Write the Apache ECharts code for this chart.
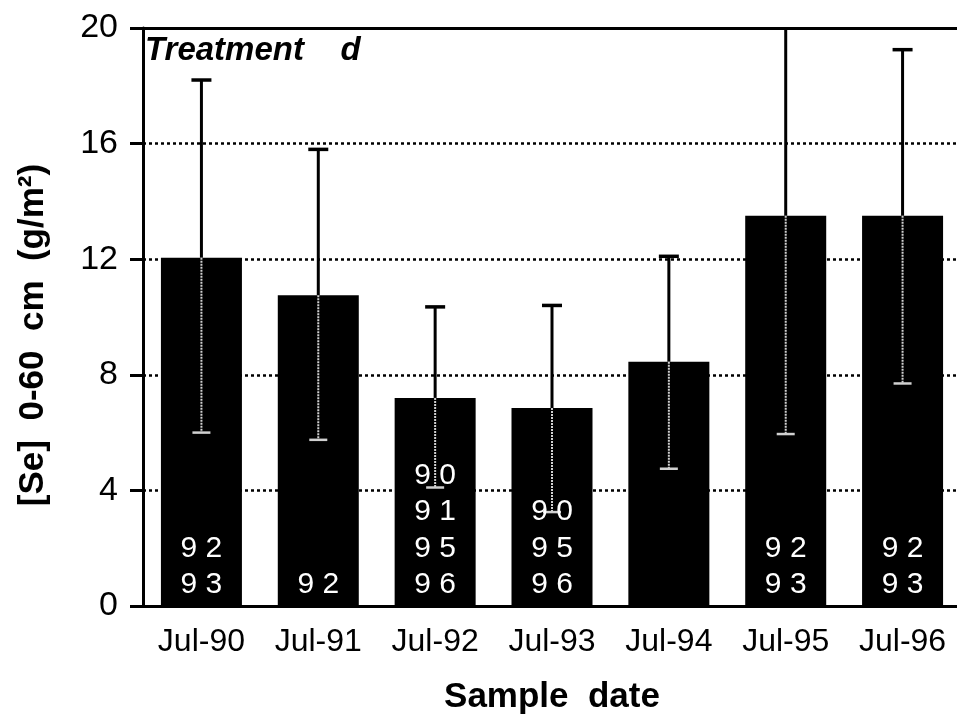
<!DOCTYPE html>
<html>
<head>
<meta charset="utf-8">
<script src="https://cdn.jsdelivr.net/npm/echarts@6/dist/echarts.min.js"></script>
<style>
  html, body { margin: 0; padding: 0; background: #fff; }
  #chart { width: 957px; height: 719px; }
</style>
</head>
<body>
<div id="chart"></div>
<script>
// data
var categories = ['Jul-90', 'Jul-91', 'Jul-92', 'Jul-93', 'Jul-94', 'Jul-95', 'Jul-96'];
var seMeans = [12.05, 10.75, 7.2, 6.85, 8.45, 13.5, 13.5];
var seLow = [6.0, 5.75, 4.1, 3.25, 4.75, 5.95, 7.7];
var seHigh = [18.2, 15.8, 10.35, 10.4, 12.1, 21.0, 19.25];
// years noted inside each bar (top to bottom)
var yearLabels = [['92', '93'], ['92'], ['90', '91', '95', '96'], ['90', '95', '96'], [], ['92', '93'], ['92', '93']];
var yTicks = [0, 4, 8, 12, 16, 20];

var chart = echarts.init(document.getElementById('chart'));

var errData = categories.map(function (c, i) {
  return [i, seLow[i], seHigh[i], seMeans[i]];
});

var option = {
  animation: false,
  textStyle: { fontFamily: 'Liberation Sans', color: '#000' },
  title: {
    text: 'Treatment    d',
    left: 145,
    top: 34,
    padding: 0,
    textStyle: { fontSize: 33, fontWeight: 'bold', fontStyle: 'italic', color: '#000', fontFamily: 'Liberation Sans' }
  },
  grid: { left: 143, top: 28, width: 818, height: 578, outerBoundsMode: 'none' },
  xAxis: [{
    type: 'category',
    data: categories,
    position: 'bottom',
    axisLine: { lineStyle: { color: '#000', width: 3 } },
    axisTick: { alignWithLabel: true, length: 14, lineStyle: { color: '#000', width: 3 } },
    axisLabel: { fontSize: 32, color: '#000', margin: 20, interval: 0, hideOverlap: false },
    name: 'Sample  date',
    nameLocation: 'middle',
    nameGap: 74,
    nameTextStyle: { fontSize: 35, fontWeight: 'bold', color: '#000' }
  }, {
    type: 'category',
    data: categories,
    position: 'top',
    axisLine: { lineStyle: { color: '#000', width: 3 } },
    axisTick: { show: false },
    axisLabel: { show: false }
  }],
  yAxis: {
    type: 'value',
    min: yTicks[0],
    max: yTicks[yTicks.length - 1],
    interval: 4,
    axisLine: { show: true, lineStyle: { color: '#000', width: 3 } },
    axisTick: { show: true, length: 13, lineStyle: { color: '#000', width: 3 } },
    axisLabel: { fontSize: 34, color: '#000', margin: 25 },
    splitLine: { show: true, lineStyle: { color: '#000', width: 2.5, type: [3, 3] } },
    name: '[Se]  0-60  cm  (g/m\u00b2)',
    nameLocation: 'middle',
    nameGap: 92,
    nameTextStyle: { fontSize: 35, fontWeight: 'bold', color: '#000', padding: [0, 36, 0, 0] }
  },
  series: [{
    type: 'bar',
    data: seMeans,
    barWidth: 81,
    itemStyle: { color: '#000' },
    z: 2
  }, {
    // error bars: black above the bar, light grey inside it
    type: 'custom',
    data: errData,
    z: 5,
    renderItem: function (params, api) {
      var i = api.value(0);
      var low = api.value(1), high = api.value(2), mean = api.value(3);
      var pMean = api.coord([i, mean]);
      var pLow = api.coord([i, low]);
      var pHigh = api.coord([i, Math.min(high, 20)]);
      var x = pMean[0];
      var kids = [
        { type: 'line', shape: { x1: x, y1: pMean[1], x2: x, y2: pHigh[1] }, style: { stroke: '#000', lineWidth: 3 } },
        { type: 'line', shape: { x1: x, y1: pMean[1], x2: x, y2: pLow[1] }, style: { stroke: '#d0d0d0', lineWidth: 2, lineDash: [2, 1] } },
        { type: 'line', shape: { x1: x - 9, y1: pLow[1], x2: x + 9, y2: pLow[1] }, style: { stroke: '#d0d0d0', lineWidth: 2.5 } }
      ];
      if (high <= 20) {
        kids.push({ type: 'line', shape: { x1: x - 10, y1: pHigh[1], x2: x + 10, y2: pHigh[1] }, style: { stroke: '#000', lineWidth: 3.5 } });
      }
      return { type: 'group', children: kids };
    }
  }, {
    // year notes stacked at the foot of each bar
    type: 'custom',
    data: categories.map(function (c, i) { return [i, 0]; }),
    z: 6,
    renderItem: function (params, api) {
      var i = api.value(0);
      var base = api.coord([i, 0]);
      var list = yearLabels[i];
      var kids = list.map(function (t, k) {
        var fromBottom = list.length - 1 - k;
        return {
          type: 'text',
          style: {
            text: t.split('').join(' '),
            x: base[0],
            y: base[1] - 21 - fromBottom * 36.5,
            align: 'center',
            verticalAlign: 'middle',
            fill: '#fff',
            fontSize: 30,
            fontFamily: 'Liberation Sans'
          }
        };
      });
      return { type: 'group', children: kids };
    }
  }]
};

chart.setOption(option);
</script>
</body>
</html>
